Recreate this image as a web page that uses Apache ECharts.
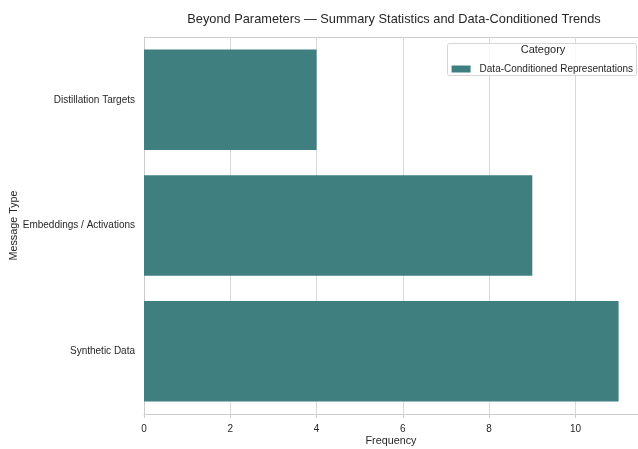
<!DOCTYPE html>
<html><head><meta charset="utf-8">
<script src="https://cdn.jsdelivr.net/npm/echarts@6/dist/echarts.min.js"></script>
<style>html,body{margin:0;padding:0;background:#fff}#c{width:638px;height:449px}</style>
</head><body><div id="c"></div>
<script>
const categories = ['Distillation Targets', 'Embeddings / Activations', 'Synthetic Data'];
const seriesName = 'Data-Conditioned Representations';
const values = [4, 9, 11];
const xTicks = [0, 2, 4, 6, 8, 10];

const chart = echarts.init(document.getElementById('c'), null, {renderer: 'canvas'});
const font = 'Liberation Sans, Arial, sans-serif';
chart.setOption({
  animation: false,
  title: {
    text: 'Beyond Parameters — Summary Statistics and Data-Conditioned Trends',
    left: 389, top: 8, textAlign: 'center',
    textStyle: {fontFamily: font, fontSize: 12.8, fontWeight: 'normal', color: '#262626'}
  },
  grid: {left: 144, right: 0, top: 37, bottom: 35, containLabel: false, outerBoundsMode: 'none'},
  xAxis: {
    type: 'value', min: 0, max: 11.45, interval: 2,
    name: 'Frequency', nameLocation: 'middle', nameGap: 22, nameMoveOverlap: false,
    nameTextStyle: {fontFamily: font, fontSize: 10.8, color: '#262626'},
    axisLine: {show: true, lineStyle: {color: '#cccccc', width: 1}},
    axisTick: {show: true, length: 4, lineStyle: {color: '#cccccc'}},
    axisLabel: {fontFamily: font, fontSize: 10, color: '#262626', margin: 10,
      formatter: v => xTicks.includes(v) ? String(v) : ''},
    splitLine: {show: true, lineStyle: {color: '#d9d9d9', width: 1}}
  },
  yAxis: {
    type: 'category', data: categories, inverse: true,
    name: 'Message Type', nameLocation: 'middle', nameGap: 124, nameRotate: 90, nameMoveOverlap: false,
    nameTextStyle: {fontFamily: font, fontSize: 10.8, color: '#262626'},
    axisLine: {show: true, lineStyle: {color: '#cccccc', width: 1}},
    axisTick: {show: false},
    axisLabel: {fontFamily: font, fontSize: 10, color: '#262626', margin: 9},
    splitLine: {show: false}
  },
  legend: {
    data: [seriesName], right: 0, top: 59, itemWidth: 19, itemHeight: 7, itemGap: 5,
    textStyle: {fontFamily: font, fontSize: 10, color: '#262626', padding: [0, 0, 0, 4]},
    icon: 'rect', z: 20
  },
  graphic: [
    {type: 'line', shape: {x1: 144, y1: 37.5, x2: 638, y2: 37.5}, style: {stroke: '#cccccc', lineWidth: 1}, z: 0},
    {type: 'rect', shape: {x: 447.5, y: 43.5, width: 189, height: 32, r: 2},
     style: {fill: 'rgba(255,255,255,0.8)', stroke: '#d6d6d6', lineWidth: 1}, z: 10},
    {type: 'text', x: 543, y: 44, style: {text: 'Category', fontFamily: font, fontSize: 11, fill: '#262626', textAlign: 'center'}, z: 11}
  ],
  series: [{
    name: seriesName, type: 'bar', data: values, barCategoryGap: '20%',
    itemStyle: {color: '#3f7f80'}, z: 5
  }]
});
</script></body></html>
